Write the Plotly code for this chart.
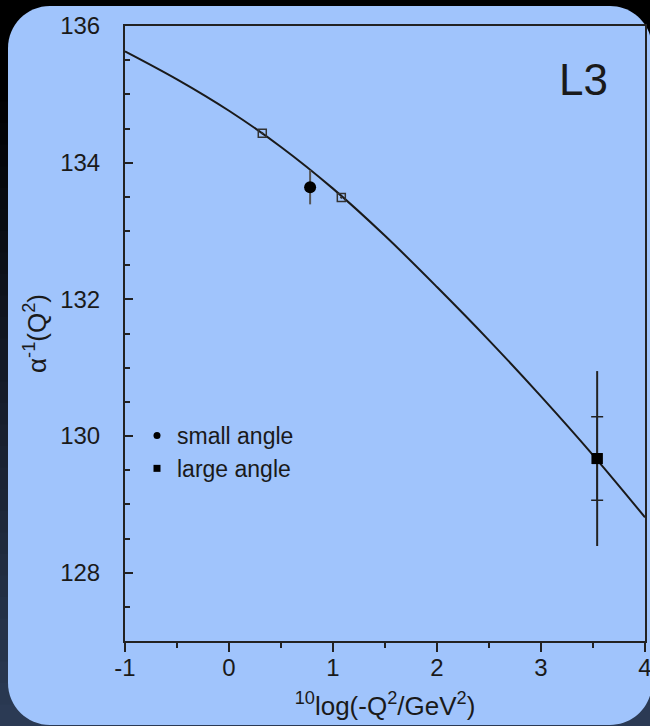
import plotly.graph_objects as go

# ---- data ----
curve_x = [-1.0, -0.5, 0.0, 0.5, 1.0, 1.5, 2.0, 2.5, 3.0, 3.5, 4.0]
curve_y = [135.63, 135.22, 134.76, 134.23, 133.62, 132.93, 132.18, 131.40, 130.58, 129.72, 128.81]

open_x = [0.32, 1.08]
open_y = [134.43, 133.49]

small_x = [0.78]
small_y = [133.64]
small_err = [0.25]

large_x = [3.54]
large_y = [129.67]
large_err_stat = [0.61]
large_err_tot = [1.28]

x_ticks = [-1, 0, 1, 2, 3, 4]
y_ticks = [128, 130, 132, 134, 136]

FONT = "Liberation Sans, Arial, sans-serif"
INK = "#1a1a1a"
PANEL = "#a0c4fc"

# plot-area geometry in pixels (for background shapes)
W, H = 650, 726
L, R, T, B = 125, 5, 26, 85
pw, ph = W - L - R, H - T - B


def X(px):
    return (px - L) / pw


def Y(py):
    return (H - B - py) / ph


fig = go.Figure()

fig.add_trace(go.Scatter(x=curve_x, y=curve_y, mode="lines",
                         line=dict(color=INK, width=2, shape="spline", smoothing=1.0),
                         showlegend=False, hoverinfo="skip"))
fig.add_trace(go.Scatter(x=open_x, y=open_y, mode="markers",
                         marker=dict(symbol="square-open-dot", size=8, color="#333", line=dict(width=1.5)),
                         showlegend=False))
fig.add_trace(go.Scatter(x=small_x, y=small_y, mode="markers",
                         marker=dict(symbol="circle", size=12, color="#000"),
                         error_y=dict(type="data", array=small_err, color="#555", thickness=2, width=0),
                         showlegend=False))
fig.add_trace(go.Scatter(x=large_x, y=large_y, mode="markers",
                         marker=dict(symbol="square", size=11, color="#000"),
                         error_y=dict(type="data", array=large_err_tot, color="#222", thickness=2, width=0),
                         showlegend=False))
fig.add_trace(go.Scatter(x=large_x, y=large_y, mode="markers",
                         marker=dict(symbol="square", size=11, color="#000"),
                         error_y=dict(type="data", array=large_err_stat, color="#222", thickness=1.5, width=6),
                         showlegend=False))

# legend entries
fig.add_trace(go.Scatter(x=[None], y=[None], mode="markers", name="small angle",
                         marker=dict(symbol="circle", size=7, color="#000")))
fig.add_trace(go.Scatter(x=[None], y=[None], mode="markers", name="large angle",
                         marker=dict(symbol="square", size=7, color="#000")))

# background gradient + rounded panel
shapes = []
n = 30
top_c = (0, 0, 0)
bot_c = (44, 59, 86)
y0px = 80
for i in range(n):
    a = y0px + (H - y0px) * i / n
    b = y0px + (H - y0px) * (i + 1) / n
    f = (i + 0.5) / n
    c = tuple(int(top_c[k] + (bot_c[k] - top_c[k]) * f) for k in range(3))
    shapes.append(dict(type="rect", xref="paper", yref="paper", x0=X(-5), x1=X(W + 5), y0=Y(b + 1), y1=Y(a),
                       fillcolor="rgb(%d,%d,%d)" % c, line=dict(width=0), layer="below"))

x0p, x1p, y0p, y1p, r = 8, 652, 6, 725, 42
k = 0.5523 * r
path = (
    f"M {X(x0p + r)},{Y(y0p)} L {X(x1p - r)},{Y(y0p)} "
    f"C {X(x1p - r + k)},{Y(y0p)} {X(x1p)},{Y(y0p + r - k)} {X(x1p)},{Y(y0p + r)} "
    f"L {X(x1p)},{Y(y1p - r)} "
    f"C {X(x1p)},{Y(y1p - r + k)} {X(x1p - r + k)},{Y(y1p)} {X(x1p - r)},{Y(y1p)} "
    f"L {X(x0p + r)},{Y(y1p)} "
    f"C {X(x0p + r - k)},{Y(y1p)} {X(x0p)},{Y(y1p - r + k)} {X(x0p)},{Y(y1p - r)} "
    f"L {X(x0p)},{Y(y0p + r)} "
    f"C {X(x0p)},{Y(y0p + r - k)} {X(x0p + r - k)},{Y(y0p)} {X(x0p + r)},{Y(y0p)} Z"
)
shapes.append(dict(type="path", xref="paper", yref="paper", path=path, fillcolor=PANEL,
                   line=dict(width=0), layer="below"))

fig.update_layout(
    width=W, height=H,
    margin=dict(l=L, r=R, t=T, b=B, pad=0, autoexpand=False),
    paper_bgcolor="#000000",
    plot_bgcolor="rgba(0,0,0,0)",
    font=dict(family=FONT, color=INK, size=24),
    shapes=shapes,
    showlegend=True,
    legend=dict(x=X(137), y=Y(414), xanchor="left", yanchor="top", bgcolor="rgba(0,0,0,0)",
                font=dict(family=FONT, size=23, color=INK), itemsizing="trace", tracegroupgap=0),
    annotations=[dict(text="L3", x=X(583), y=Y(80), xref="paper", yref="paper", showarrow=False,
                      xanchor="center", yanchor="middle",
                      font=dict(family=FONT, size=44, color=INK))],
)

fig.update_xaxes(
    range=[-1, 4], tickvals=x_ticks, ticktext=[str(v) for v in x_ticks],
    automargin=False, ticklabeloverflow="allow",
    showline=True, linecolor="#222", linewidth=2, mirror=True,
    ticks="outside", ticklen=9, tickwidth=2, tickcolor="#222",
    minor=dict(dtick=0.5, ticks="outside", ticklen=5, tickwidth=1.5, tickcolor="#222", showgrid=False),
    showgrid=False, zeroline=False,
    tickfont=dict(family=FONT, size=24, color=INK),
    ticklabelstandoff=-5,
    title=dict(text="<sup>10</sup>log(-Q<sup>2</sup>/GeV<sup>2</sup>)", font=dict(family=FONT, size=26, color=INK),
               standoff=17),
)
fig.update_yaxes(
    range=[127, 136], tickvals=y_ticks, ticktext=[str(v) for v in y_ticks],
    automargin=False,
    showline=True, linecolor="#222", linewidth=2, mirror=True,
    ticks="inside", ticklen=8, tickwidth=2, tickcolor="#222",
    minor=dict(dtick=0.5, ticks="inside", ticklen=5, tickwidth=1.5, tickcolor="#222", showgrid=False),
    showgrid=False, zeroline=False,
    tickfont=dict(family=FONT, size=24, color=INK),
    ticklabelstandoff=18,
    title=dict(text="α<sup>-1</sup>(Q<sup>2</sup>)", font=dict(family=FONT, size=26, color=INK), standoff=6),
)

fig.write_html("out.html", config={"displayModeBar": False},
               post_script="document.body.style.margin='0';document.body.style.overflow='hidden';")
